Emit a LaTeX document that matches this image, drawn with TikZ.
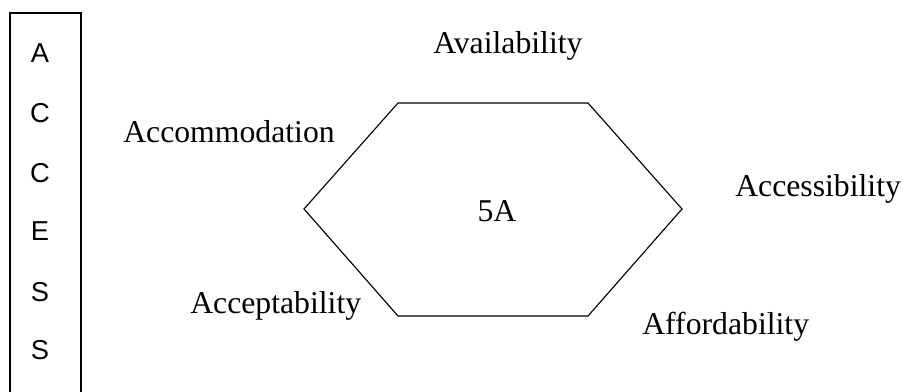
\documentclass[tikz,border=0pt]{standalone}
\usepackage{fontspec}
\setmainfont{Liberation Serif}
\newfontfamily\lettersfont{Liberation Sans}
\begin{document}
\begin{tikzpicture}[x=0.75pt,y=-0.75pt,
  label/.style={inner sep=0pt,anchor=base west,font=\fontsize{23.8}{28}\selectfont},
  letter/.style={inner sep=0pt,anchor=center,font=\lettersfont\fontsize{20.5}{24}\selectfont},
  frame/.style={draw=black,line width=0.9pt},
  hexline/.style={draw=black,line width=0.85pt,line join=miter}]
\useasboundingbox (0,0) rectangle (903,392);
\begin{scope}
  \clip (0,0) rectangle (903,392);
  % vertical frame holding the letters
  \draw[frame] (10,400) -- (10,13) -- (81,13) -- (81,400);
\end{scope}
% letters of ACCESS
\node[letter] (l1) at (40,53)  {A};
\node[letter] (l2) at (40,113) {C};
\node[letter] (l3) at (40,173) {C};
\node[letter] (l4) at (40,231) {E};
\node[letter] (l5) at (40,292) {S};
\node[letter] (l6) at (40,350) {S};
% hexagon corners
\coordinate (tl) at (398,103);
\coordinate (tr) at (588,103);
\coordinate (r)  at (682,209);
\coordinate (br) at (588,316);
\coordinate (bl) at (398,316);
\coordinate (l)  at (304,209);
\draw[hexline] (tl) -- (tr) -- (r) -- (br) -- (bl) -- (l) -- cycle;
\node[label,anchor=base] (core) at (497,222) {5A};
% the five dimensions
\node[label] (avail)  at (433,54)  {Availability};
\node[label] (accom)  at (123,143) {Accommodation};
\node[label] (access) at (735,196) {Accessibility};
\node[label] (accept) at (190,313) {Acceptability};
\node[label] (afford) at (642,334) {Affordability};
\end{tikzpicture}
\end{document}
